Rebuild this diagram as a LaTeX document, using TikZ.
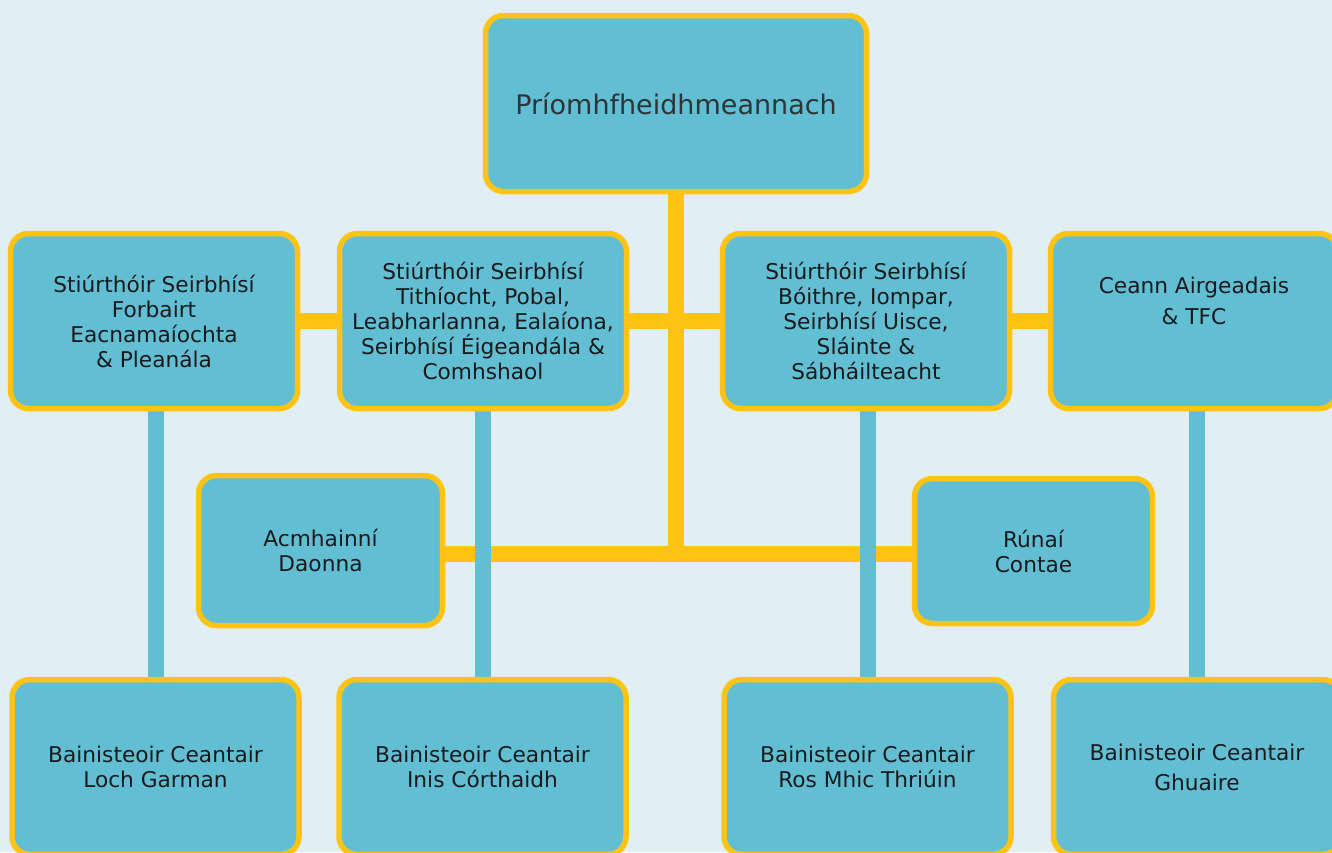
\documentclass[tikz,border=0pt]{standalone}
\usepackage{fontspec}
\setmainfont{DejaVu Sans}
\usetikzlibrary{backgrounds}

\definecolor{bgblue}{HTML}{E1EFF5}
\definecolor{boxteal}{HTML}{62BFD3}
\definecolor{edgeyellow}{HTML}{FFC413}
\definecolor{textdark}{HTML}{161A1C}
\definecolor{ceogrey}{HTML}{2E3538}

\begin{document}
\begin{tikzpicture}[x=1pt,y=-1pt,
  orgbox/.style={draw=edgeyellow, line width=5.5pt, fill=boxteal, rounded corners=18pt,
    minimum width=287pt, minimum height=175pt, inner sep=0pt, align=center,
    text=textdark, font={\fontsize{21.7}{25}\selectfont}},
  yellowbar/.style={edgeyellow, line width=16pt},
  tealbar/.style={boxteal, line width=16pt}]
\useasboundingbox (0,0) rectangle (1332,852);

% Chief executive
\node[orgbox, minimum width=381pt, minimum height=176pt, text=ceogrey,
  font={\fontsize{27}{32}\selectfont}] (ceo) at (676,103.5) {Príomhfheidhmeannach};

% Directors
\node[orgbox] (fA) at (154,321) {Stiúrthóir Seirbhísí\\Forbairt\\Eacnamaíochta\\\& Pleanála};
\node[orgbox] (fB) at (483,321) {Stiúrthóir Seirbhísí\\Tithíocht, Pobal,\\Leabharlanna, Ealaíona,\\Seirbhísí Éigeandála \&\\Comhshaol};
\node[orgbox] (fC) at (866,321) {Stiúrthóir Seirbhísí\\Bóithre, Iompar,\\Seirbhísí Uisce,\\Sláinte \&\\Sábháilteacht};
\node[orgbox] (fD) at (1194,321) {};
\node[align=center, text=textdark, font={\fontsize{21.7}{25}\selectfont}] (fDtext)
  at (1194,301) {Ceann Airgeadais\\[5.7pt]\& TFC};

% Staff units
\node[orgbox, minimum width=244pt, minimum height=150pt] (hr) at (320.5,550.5) {Acmhainní\\Daonna};
\node[orgbox, minimum width=238pt, minimum height=145pt] (rc) at (1033.5,551) {Rúnaí\\Contae};

% District managers
\node[orgbox] (bLG) at (155.5,767) {Bainisteoir Ceantair\\Loch Garman};
\node[orgbox] (bIC) at (482.5,767) {Bainisteoir Ceantair\\Inis Córthaidh};
\node[orgbox] (bRM) at (867.5,767) {Bainisteoir Ceantair\\Ros Mhic Thriúin};
\node[orgbox] (bGH) at (1197,767) {Bainisteoir Ceantair\\[5pt]Ghuaire};

\begin{scope}[on background layer]
\fill[bgblue] (0,0) rectangle (1332,852);
% Yellow bars
\coordinate (jn) at (676,554);
\draw[yellowbar] (ceo.south) -- (ceo.south |- jn);
\draw[yellowbar] (fA) -- (fD);
\draw[yellowbar] (hr.east |- jn) -- (rc.west |- jn);
% Teal bars
\draw[tealbar] (bLG.north) -- (bLG.north |- fA.south);
\draw[tealbar] (bIC.north) -- (bIC.north |- fB.south);
\draw[tealbar] (bRM.north) -- (bRM.north |- fC.south);
\draw[tealbar] (bGH.north) -- (bGH.north |- fD.south);
\end{scope}
\end{tikzpicture}
\end{document}
